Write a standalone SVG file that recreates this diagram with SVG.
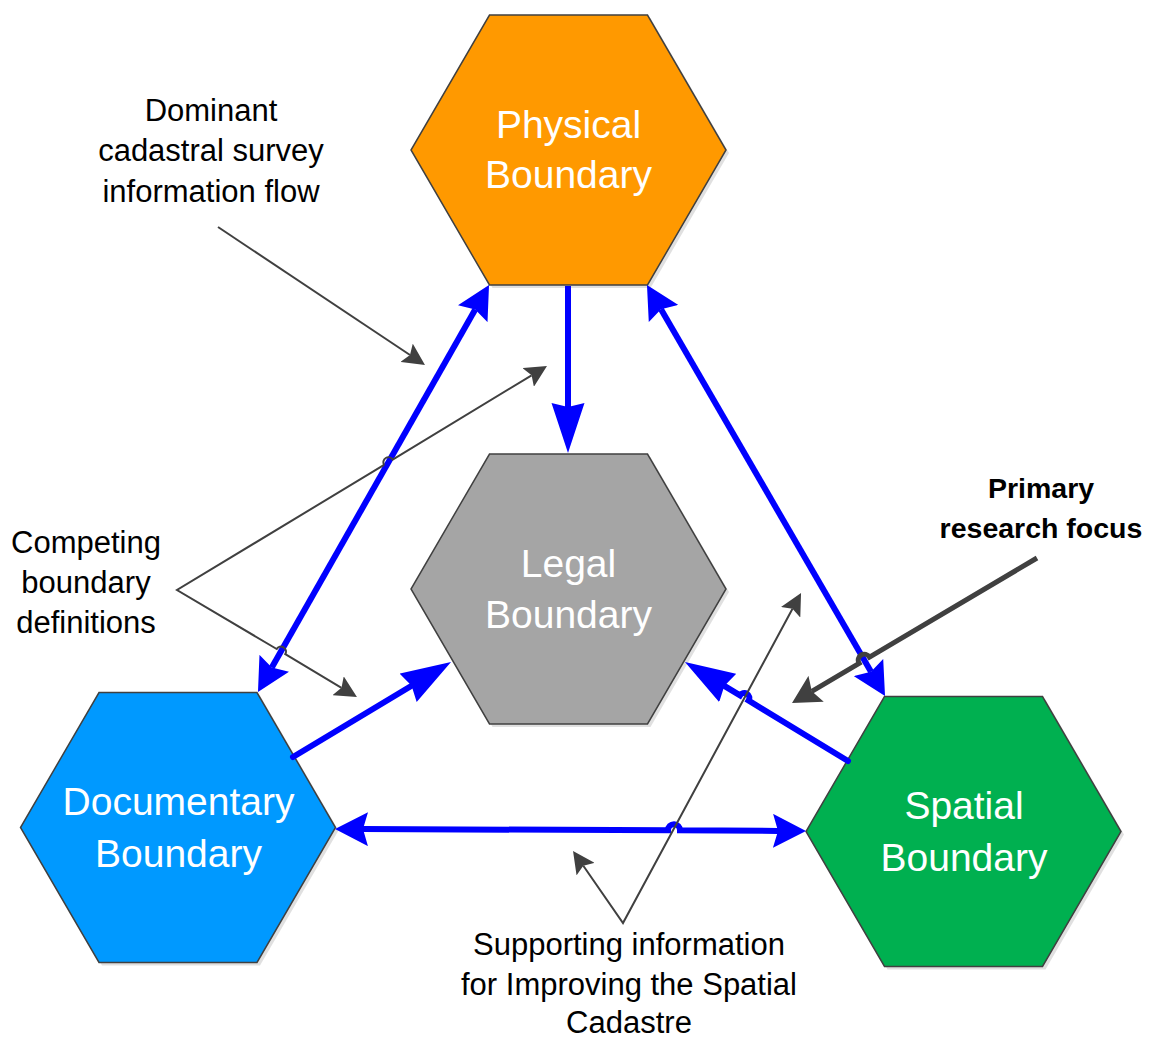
<svg xmlns="http://www.w3.org/2000/svg" xmlns:xlink="http://www.w3.org/1999/xlink" width="1153" height="1041" viewBox="0 0 1153 1041">
<style>
.hex{stroke:#404040;stroke-width:1.5}
.shadow{fill:#000;opacity:0.12}
.lbl{font-family:"Liberation Sans",Arial,sans-serif;font-size:39px;fill:#fff;text-anchor:middle}
.note{font-family:"Liberation Sans",Arial,sans-serif;font-size:31px;fill:#000;text-anchor:middle}
.bold{font-weight:bold;font-size:28.5px}
.blue{fill:none;stroke:#0000FF;stroke-width:6}
.gray{fill:none;stroke:#404040;stroke-width:2}
.grayb{fill:none;stroke:#404040;stroke-width:5}
</style>
<defs>
<polygon id="hexshape" points="-79,-135 79,-135 157.5,0 79,135 -79,135 -157.5,0"/>
<marker id="ab" markerUnits="userSpaceOnUse" viewBox="0 -17 50 34" markerWidth="50" markerHeight="34" refX="4" refY="0" orient="auto-start-reverse"><path d="M0,-16.5 L50,0 L0,16.5 L4,0 Z" fill="#0000FF"/></marker>
<marker id="ad" markerUnits="userSpaceOnUse" viewBox="0 -17 33 34" markerWidth="33" markerHeight="34" refX="5" refY="0" orient="auto-start-reverse"><path d="M0,-17 L33,0 L0,17 L5,0 Z" fill="#0000FF"/></marker>
<marker id="ag" markerUnits="userSpaceOnUse" viewBox="0 -11 22 22" markerWidth="22" markerHeight="22" refX="4" refY="0" orient="auto-start-reverse"><path d="M0,-11 L22,0 L0,11 L4,0 Z" fill="#404040"/></marker>
<marker id="agb" markerUnits="userSpaceOnUse" viewBox="0 -15 28 30" markerWidth="28" markerHeight="30" refX="5" refY="0" orient="auto-start-reverse"><path d="M0,-15 L28,0 L0,15 L5,0 Z" fill="#404040"/></marker>
</defs>
<rect width="1153" height="1041" fill="#fff"/>

<g id="node-physical">
<use xlink:href="#hexshape" href="#hexshape" class="shadow" transform="translate(571.5,153)"/>
<use xlink:href="#hexshape" href="#hexshape" class="hex" fill="#FF9900" transform="translate(568.5,150)"/>
<text class="lbl" x="568.5" y="138">Physical</text>
<text class="lbl" x="568.5" y="188">Boundary</text>
</g>
<g id="node-legal">
<use xlink:href="#hexshape" href="#hexshape" class="shadow" transform="translate(571.5,592)"/>
<use xlink:href="#hexshape" href="#hexshape" class="hex" fill="#A5A5A5" transform="translate(568.5,589)"/>
<text class="lbl" x="568.5" y="577">Legal</text>
<text class="lbl" x="568.5" y="628">Boundary</text>
</g>
<g id="node-documentary">
<use xlink:href="#hexshape" href="#hexshape" class="shadow" transform="translate(181,830.5)"/>
<use xlink:href="#hexshape" href="#hexshape" class="hex" fill="#0099FF" transform="translate(178,827.5)"/>
<text class="lbl" x="178.5" y="815">Documentary</text>
<text class="lbl" x="178.5" y="867">Boundary</text>
</g>
<g id="node-spatial">
<use xlink:href="#hexshape" href="#hexshape" class="shadow" transform="translate(966.5,834.5)"/>
<use xlink:href="#hexshape" href="#hexshape" class="hex" fill="#00B050" transform="translate(963.5,831.5)"/>
<text class="lbl" x="964" y="819">Spatial</text>
<text class="lbl" x="964" y="871">Boundary</text>
</g>

<g id="connectors">
<path class="blue" d="M568,286 L568,407" marker-end="url(#ab)"/>
<path class="blue" d="M271.8,667.6 L475.2,309.4" marker-start="url(#ad)" marker-end="url(#ad)"/>
<path class="blue" d="M661,309.2 L871,671.8" marker-start="url(#ad)" marker-end="url(#ad)"/>
<path class="blue" d="M293,757 L411.6,685.7" stroke-linecap="round" marker-end="url(#ab)"/>
<path class="blue" d="M848,761 L748.6,700.6 A5,5 0 0 0 740,695.4 L724.3,685.9" stroke-linecap="round" marker-end="url(#ab)"/>
<path class="blue" d="M363,829.1 L668,830.2 A6,6 0 0 1 680,830.3 L778,830.9" marker-start="url(#ad)" marker-end="url(#ad)"/>

<path class="gray" d="M218,227 L410,355" marker-end="url(#ag)"/>
<path class="gray" d="M384.1,464.9 A5,5 0 0 1 392.7,459.7 L531.6,375.3" marker-end="url(#ag)"/>
<path class="gray" d="M384.1,464.9 L177,590 L276.7,649 A5,5 0 0 1 285.3,654.1 L341.5,687.8" marker-end="url(#ag)"/>
<path class="gray" d="M583.3,865.8 L623,923 L792.5,608.8" marker-start="url(#ag)" marker-end="url(#ag)"/>
<path class="grayb" d="M1037,558 L869.5,657.1 A6,6 0 0 0 859.1,663.3 L811.8,691.3" marker-end="url(#agb)"/>
</g>

<g id="labels">
<text class="note" x="211" y="121">Dominant</text>
<text class="note" x="211" y="161">cadastral survey</text>
<text class="note" x="211" y="202">information flow</text>
<text class="note" x="86" y="553">Competing</text>
<text class="note" x="86" y="593">boundary</text>
<text class="note" x="86" y="633">definitions</text>
<text class="note bold" x="1041" y="498">Primary</text>
<text class="note bold" x="1041" y="538">research focus</text>
<text class="note" x="629" y="955">Supporting information</text>
<text class="note" x="629" y="995">for Improving the Spatial</text>
<text class="note" x="629" y="1033">Cadastre</text>
</g>
</svg>
